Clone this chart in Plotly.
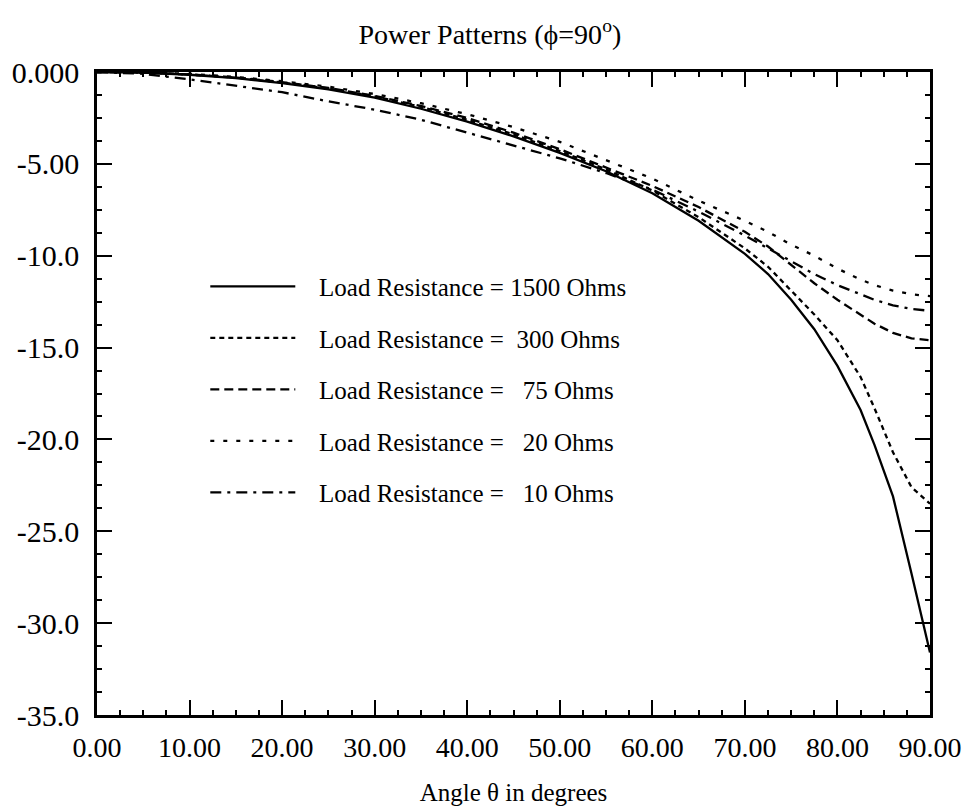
import plotly.graph_objects as go

angles = [0, 5, 10, 15, 20, 25, 30, 35, 40, 45, 50, 55, 60, 65, 70, 72.5, 75, 77.5, 80, 82.5, 84, 86, 88, 90]

r1500 = [0, -0.03, -0.15, -0.33, -0.6, -0.95, -1.4, -2.0, -2.7, -3.5, -4.4, -5.4, -6.6, -8.1, -9.9,
         -11.0, -12.4, -14.0, -16.0, -18.4, -20.3, -23.1, -27.3, -31.6]
r300 = [0, -0.03, -0.14, -0.31, -0.57, -0.9, -1.33, -1.9, -2.6, -3.4, -4.3, -5.3, -6.45, -7.9, -9.6,
        -10.6, -11.9, -13.2, -14.6, -16.6, -18.3, -20.7, -22.6, -23.5]
r75 = [0, -0.03, -0.13, -0.3, -0.55, -0.87, -1.3, -1.85, -2.5, -3.3, -4.2, -5.2, -6.2, -7.35, -8.7,
       -9.5, -10.5, -11.5, -12.4, -13.2, -13.7, -14.2, -14.5, -14.6]
r20 = [0, -0.02, -0.1, -0.27, -0.5, -0.8, -1.2, -1.7, -2.3, -3.0, -3.8, -4.8, -5.8, -7.0, -8.1,
       -8.7, -9.4, -10.0, -10.7, -11.3, -11.6, -11.9, -12.1, -12.2]
r10 = [0, -0.1, -0.4, -0.75, -1.1, -1.6, -2.05, -2.6, -3.3, -4.0, -4.7, -5.5, -6.4, -7.6, -8.9,
       -9.6, -10.3, -11.0, -11.6, -12.1, -12.4, -12.7, -12.9, -13.0]

NB = "\u00a0"
names = [
    "Load Resistance = 1500 Ohms",
    "Load Resistance =" + NB * 2 + "300 Ohms",
    "Load Resistance =" + NB * 3 + "75 Ohms",
    "Load Resistance =" + NB * 3 + "20 Ohms",
    "Load Resistance =" + NB * 3 + "10 Ohms",
]
series = [r1500, r300, r75, r20, r10]
dashes = ["solid", "5px,4px", "9px,5px", "4px,9px", "11px,6px,3px,6px"]

x_ticks = [0, 10, 20, 30, 40, 50, 60, 70, 80, 90]
x_text = ["0.00", "10.00", "20.00", "30.00", "40.00", "50.00", "60.00", "70.00", "80.00", "90.00"]
y_ticks = [0, -5, -10, -15, -20, -25, -30, -35]
y_text = ["0.000", "-5.00", "-10.0", "-15.0", "-20.0", "-25.0", "-30.0", "-35.0"]

FONT = "Liberation Serif, Times New Roman, serif"

fig = go.Figure()
for i, (nm, ys, d) in enumerate(zip(names, series, dashes)):
    fig.add_trace(go.Scatter(
        x=angles, y=ys, mode="lines", name=NB * 3 + nm, legendgroup=f"g{i}",
        line=dict(color="black", width=2.3, dash=d),
    ))

axis_common = dict(
    showgrid=False, zeroline=False, showline=True, linecolor="black", linewidth=2.5,
    mirror="ticks", ticks="inside", ticklen=15, tickwidth=2, tickcolor="black",
    automargin=False,
)

fig.update_xaxes(
    range=[0, 90], tickvals=x_ticks, ticktext=x_text,
    tickfont=dict(family=FONT, size=28, color="black"),
    minor=dict(dtick=2.5, tick0=0, ticks="inside", ticklen=5, tickwidth=2, tickcolor="black"),
    title=dict(text="Angle θ in degrees", font=dict(family=FONT, size=25, color="black"), standoff=22),
    ticklabelstandoff=6,
    **axis_common,
)
fig.update_yaxes(
    range=[-35, 0], tickvals=y_ticks, ticktext=y_text,
    tickfont=dict(family=FONT, size=30, color="black"),
    minor=dict(dtick=1.25, tick0=0, ticks="inside", ticklen=5, tickwidth=2, tickcolor="black"),
    ticklabelstandoff=9,
    **axis_common,
)

fig.update_layout(
    width=972, height=812,
    margin=dict(l=97, r=42, t=72, b=97),
    paper_bgcolor="white", plot_bgcolor="white",
    title=dict(text="Power Patterns (ϕ=90<sup>o</sup>)", x=0.504, xanchor="center", y=0.958, yanchor="middle",
               font=dict(family=FONT, size=28, color="black")),
    showlegend=True,
    legend=dict(x=0.13, y=0.702, xanchor="left", yanchor="top", bgcolor="rgba(0,0,0,0)",
                font=dict(family=FONT, size=25, color="black"), itemwidth=85,
                tracegroupgap=16, itemclick=False),
)

fig.write_html("out.html")
